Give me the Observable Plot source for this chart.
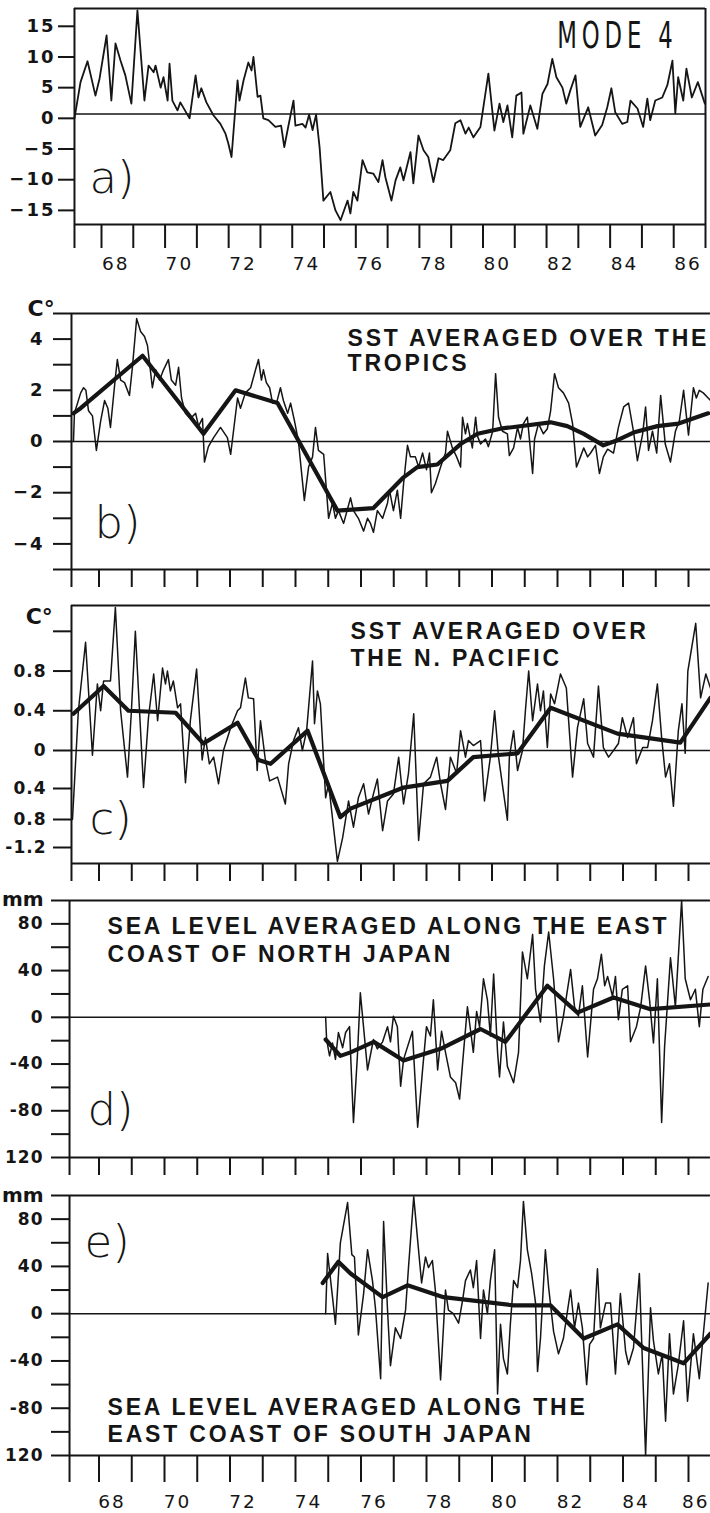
<!DOCTYPE html>
<html><head><meta charset="utf-8">
<script src="https://cdn.jsdelivr.net/npm/d3@7"></script>
<script src="https://cdn.jsdelivr.net/npm/@observablehq/plot@0.6"></script>
<style>
html,body{margin:0;padding:0;background:#fff;overflow:hidden;}
#chart{position:relative;width:710px;height:1513px;overflow:hidden;background:#fff;}
#chart svg{position:absolute;left:0;}
</style></head><body><div id="chart"></div>
<script>
// ---------- DATA (decimal year, value) ----------
const mode4 = [[1967.15,0],[1967.34,5.9],[1967.56,9.3],[1967.81,3.7],[1967.94,6.5],[1968.16,13.5],[1968.31,2.9],[1968.44,12.2],[1968.6,9.4],[1968.75,7],[1968.94,2.4],[1969.13,17.6],[1969.35,2.9],[1969.48,8.6],[1969.64,7.5],[1969.7,8.6],[1969.86,5],[1969.95,6.7],[1970.08,2.9],[1970.14,8.9],[1970.23,2.9],[1970.39,1.3],[1970.48,2.6],[1970.77,0],[1970.96,7],[1971.05,3.4],[1971.14,4.9],[1971.3,2.6],[1971.52,0.5],[1971.74,-0.9],[1971.9,-2.5],[1971.99,-4.1],[1972.09,-6.3],[1972.28,6.2],[1972.34,2.9],[1972.47,6.2],[1972.62,9.1],[1972.72,7.8],[1972.78,10],[1972.91,3.5],[1973.0,3.7],[1973.09,0],[1973.25,-0.3],[1973.47,-1.4],[1973.65,-1.2],[1973.75,-4.7],[1973.88,-1.2],[1974.04,2.9],[1974.1,-1.2],[1974.32,-0.9],[1974.42,-1.5],[1974.53,0.6],[1974.64,-1.9],[1974.75,0.6],[1974.86,-4.7],[1974.98,-13.4],[1975.2,-12],[1975.36,-15],[1975.52,-16.6],[1975.74,-13.4],[1975.83,-15.5],[1975.92,-12],[1976.05,-13.4],[1976.21,-6.8],[1976.36,-8.8],[1976.55,-9],[1976.71,-10.4],[1976.84,-6.8],[1976.93,-9.6],[1977.12,-13.4],[1977.25,-10.1],[1977.4,-8],[1977.5,-10.1],[1977.72,-5.5],[1977.81,-10.6],[1977.97,-2.8],[1978.13,-5.2],[1978.28,-6.3],[1978.44,-10.4],[1978.6,-6.5],[1978.75,-6.8],[1978.97,-5.2],[1979.13,-0.8],[1979.29,-0.3],[1979.45,-2.5],[1979.55,-1.5],[1979.7,-3.1],[1979.92,-1.4],[1980.17,7.3],[1980.36,-2],[1980.52,2.4],[1980.64,-0.6],[1980.77,2.1],[1980.92,-3.1],[1981.05,3.7],[1981.21,4.2],[1981.27,-2.5],[1981.49,2.1],[1981.71,-1.7],[1981.87,4],[1982.03,5.6],[1982.18,9.7],[1982.31,6.7],[1982.5,5],[1982.62,2.4],[1982.75,4.6],[1982.91,7],[1983.06,-1.4],[1983.31,1.8],[1983.53,-2.8],[1983.75,-1.1],[1983.91,1.8],[1984.04,4.9],[1984.16,1],[1984.38,-0.9],[1984.54,-0.6],[1984.64,2.9],[1984.86,1.6],[1985.04,-1.4],[1985.17,3.2],[1985.26,-0.3],[1985.42,2.9],[1985.64,3.4],[1985.8,5.4],[1985.96,9.4],[1986.05,0.8],[1986.14,6.7],[1986.3,2.9],[1986.4,8.1],[1986.57,3.4],[1986.76,5.9],[1986.98,2.4]];

const sstTropics = [[1967.22,0],[1967.25,1.1],[1967.44,1.9],[1967.53,2.1],[1967.6,2.0],[1967.68,1.2],[1967.8,1.0],[1967.92,-0.35],[1968.05,0.8],[1968.17,1.6],[1968.27,1.3],[1968.35,0.55],[1968.5,2.5],[1968.56,3.2],[1968.66,2.4],[1968.78,2.3],[1968.93,1.8],[1969.02,2.9],[1969.15,4.8],[1969.27,4.3],[1969.39,4.1],[1969.48,3.75],[1969.54,3.1],[1969.63,2.1],[1969.73,2.8],[1969.85,2.4],[1969.97,2.8],[1970.12,3.2],[1970.21,2.4],[1970.34,2.2],[1970.43,2.9],[1970.52,1.7],[1970.64,1.1],[1970.79,0.9],[1970.95,1.1],[1971.04,0.6],[1971.16,0.9],[1971.22,-0.8],[1971.34,-0.2],[1971.5,0.15],[1971.71,0.55],[1971.92,0.15],[1972.02,-0.5],[1972.23,1.7],[1972.32,1.3],[1972.47,1.9],[1972.63,2.1],[1972.78,2.8],[1972.87,3.2],[1972.96,2.4],[1973.02,2.8],[1973.11,2.3],[1973.21,2.1],[1973.3,1.5],[1973.42,1.5],[1973.54,2.1],[1973.63,1.6],[1973.76,1.1],[1973.85,1.5],[1973.97,0.8],[1974.09,0],[1974.27,-2.3],[1974.4,-1.0],[1974.52,-0.6],[1974.61,0.55],[1974.7,-0.35],[1974.86,-0.5],[1975.01,-3.0],[1975.13,-2.4],[1975.22,-3.0],[1975.31,-2.7],[1975.47,-3.2],[1975.68,-2.2],[1975.77,-2.7],[1975.92,-3.0],[1976.08,-3.5],[1976.2,-3.0],[1976.29,-3.2],[1976.38,-3.55],[1976.5,-2.7],[1976.66,-3.0],[1976.81,-2.4],[1976.87,-1.9],[1976.99,-2.7],[1977.11,-1.9],[1977.21,-3.0],[1977.3,-1.65],[1977.42,-0.15],[1977.51,-0.6],[1977.66,-0.6],[1977.76,-1.0],[1977.88,-0.45],[1978.0,-1.1],[1978.09,-0.45],[1978.15,-2.0],[1978.27,-1.65],[1978.43,-1.0],[1978.58,-0.45],[1978.64,0.4],[1978.79,-0.25],[1978.92,-0.6],[1979.04,-1.0],[1979.1,0.95],[1979.19,0.3],[1979.25,0.7],[1979.4,-0.25],[1979.5,0.95],[1979.56,0.2],[1979.65,-0.1],[1979.8,0.1],[1979.89,-0.2],[1980.02,0.4],[1980.11,2.65],[1980.2,0.95],[1980.32,0.4],[1980.47,0.3],[1980.53,-0.55],[1980.66,-0.25],[1980.78,0.55],[1980.87,0.1],[1980.96,0.7],[1981.08,0.95],[1981.24,-1.25],[1981.3,0.1],[1981.42,0.7],[1981.57,0.3],[1981.69,0.5],[1981.79,1.2],[1981.91,2.65],[1982.03,2.1],[1982.18,1.9],[1982.34,1.5],[1982.46,0.7],[1982.58,-1.0],[1982.7,-0.6],[1982.8,-0.25],[1982.92,-0.6],[1983.01,-0.45],[1983.16,-0.15],[1983.28,-1.25],[1983.4,-0.6],[1983.53,-0.3],[1983.71,-0.45],[1983.86,0.55],[1984.02,1.35],[1984.17,1.5],[1984.32,0.4],[1984.44,-0.75],[1984.6,0.3],[1984.69,1.35],[1984.78,-0.35],[1984.9,0.4],[1985.03,-0.45],[1985.15,1.8],[1985.29,-0.1],[1985.45,-0.8],[1985.6,0.4],[1985.72,0.8],[1985.85,2.0],[1986.0,0.25],[1986.15,2.1],[1986.24,1.7],[1986.33,2.0],[1986.45,1.9],[1986.6,1.7],[1986.75,1.5]];
const sstTropicsSmooth = [[1967.22,1.1],[1967.44,1.3],[1969.33,3.35],[1971.19,0.3],[1972.17,2.0],[1973.45,1.5],[1975.28,-2.7],[1976.38,-2.6],[1977.3,-1.4],[1977.72,-1.0],[1978.33,-0.9],[1979.04,-0.1],[1979.56,0.3],[1980.26,0.5],[1981.79,0.75],[1982.3,0.6],[1982.8,0.3],[1983.4,-0.15],[1983.83,0.05],[1984.32,0.35],[1985.05,0.6],[1985.7,0.7],[1986.6,1.1]];

const sstNPacific = [[1967.19,-0.8],[1967.37,0.4],[1967.59,1.09],[1967.8,-0.05],[1967.95,0.67],[1968.05,0.4],[1968.14,0.7],[1968.35,0.7],[1968.5,1.44],[1968.66,0.4],[1968.87,-0.28],[1968.99,0.4],[1969.11,1.2],[1969.36,-0.39],[1969.51,0.33],[1969.67,0.77],[1969.79,0.3],[1969.94,0.83],[1970.03,0.67],[1970.09,0.8],[1970.18,0.6],[1970.27,0.7],[1970.4,0.43],[1970.49,0.47],[1970.64,-0.34],[1970.79,0.3],[1970.98,0.82],[1971.15,-0.1],[1971.25,0.13],[1971.37,-0.14],[1971.5,-0.07],[1971.65,-0.35],[1971.8,0],[1972.02,0.23],[1972.23,0.4],[1972.32,0.43],[1972.47,0.73],[1972.56,0.53],[1972.72,0.52],[1972.83,-0.21],[1972.93,0.3],[1973.08,-0.1],[1973.21,-0.32],[1973.45,-0.28],[1973.69,-0.6],[1973.79,-0.14],[1973.94,0.1],[1974.09,0.23],[1974.21,0],[1974.34,0.2],[1974.52,0.9],[1974.58,0.27],[1974.67,0.6],[1974.76,0.47],[1974.92,-0.52],[1975.01,-0.35],[1975.28,-1.4],[1975.44,-1.06],[1975.62,-0.56],[1975.77,-0.91],[1975.92,-0.52],[1976.08,-0.35],[1976.23,-0.73],[1976.38,-0.47],[1976.5,-0.3],[1976.66,-0.96],[1976.81,-0.56],[1976.99,-0.47],[1977.15,-0.07],[1977.3,-0.6],[1977.45,-0.24],[1977.61,0.37],[1977.76,-1.1],[1977.91,-0.35],[1978.12,-0.28],[1978.31,-0.07],[1978.43,-0.35],[1978.58,-0.67],[1978.73,-0.07],[1978.92,-0.24],[1979.04,0.2],[1979.19,-0.07],[1979.28,0.1],[1979.43,0.05],[1979.65,0.1],[1979.77,-0.56],[1979.95,-0.07],[1980.08,0.4],[1980.2,-0.07],[1980.47,-0.81],[1980.53,-0.07],[1980.66,0.2],[1980.78,-0.21],[1980.93,0],[1981.02,0.4],[1981.12,0.8],[1981.24,0.3],[1981.39,0.67],[1981.48,0.4],[1981.57,0.6],[1981.69,0.03],[1981.79,0.57],[1981.91,0.47],[1982.09,0.77],[1982.27,0.63],[1982.46,-0.28],[1982.61,0.23],[1982.8,0.52],[1982.92,0.07],[1983.1,-0.07],[1983.25,0.65],[1983.4,0.03],[1983.56,-0.07],[1983.71,0],[1983.86,0.07],[1983.98,0.33],[1984.14,0.13],[1984.32,0.33],[1984.41,-0.14],[1984.6,0.03],[1984.75,0.03],[1984.9,0.3],[1985.05,0.67],[1985.18,0.13],[1985.3,-0.28],[1985.42,-0.14],[1985.54,-0.63],[1985.69,0.2],[1985.8,0.47],[1985.9,-0.03],[1985.98,0.8],[1986.22,1.28],[1986.37,0.53],[1986.53,0.77],[1986.7,0.6]];
const sstNPacificSmooth = [[1967.22,0.37],[1968.14,0.65],[1968.9,0.4],[1970.34,0.38],[1971.19,0.07],[1972.23,0.28],[1972.87,-0.1],[1973.24,-0.14],[1974.37,0.2],[1975.37,-0.77],[1975.68,-0.66],[1977.3,-0.39],[1978.64,-0.32],[1979.43,-0.07],[1980.78,-0.03],[1981.79,0.43],[1983.83,0.17],[1985.75,0.08],[1986.67,0.53]];

const seaLevelNorth = [[1974.92,0],[1974.95,-19],[1975.04,-33],[1975.13,-22],[1975.22,-36],[1975.31,-13],[1975.44,-26],[1975.53,-13],[1975.65,-8],[1975.68,-30],[1975.77,-90],[1975.89,-33],[1975.98,21],[1976.2,-45],[1976.38,-19],[1976.5,-27],[1976.66,-21],[1976.81,-8],[1976.9,-21],[1976.99,1],[1977.11,-8],[1977.21,-59],[1977.3,-36],[1977.57,-12],[1977.73,-94],[1977.88,-45],[1978.0,-8],[1978.12,-16],[1978.21,15],[1978.34,-45],[1978.46,-12],[1978.58,-30],[1978.73,-51],[1978.89,-56],[1979.01,-70],[1979.13,-30],[1979.25,9],[1979.34,-10],[1979.43,-30],[1979.53,5],[1979.62,-8],[1979.74,33],[1979.86,15],[1979.95,-16],[1980.05,37],[1980.17,-30],[1980.23,-51],[1980.35,-4],[1980.47,-42],[1980.66,-56],[1980.81,-30],[1980.93,56],[1981.08,33],[1981.24,71],[1981.33,24],[1981.48,-4],[1981.6,44],[1981.73,73],[1981.88,33],[1982.03,-21],[1982.18,1],[1982.4,41],[1982.52,9],[1982.64,1],[1982.76,27],[1982.92,-34],[1983.1,24],[1983.22,33],[1983.34,54],[1983.44,27],[1983.53,35],[1983.68,18],[1983.77,35],[1983.86,-2],[1983.98,24],[1984.14,27],[1984.23,-21],[1984.41,-8],[1984.54,9],[1984.69,44],[1984.81,15],[1984.93,-22],[1985.05,33],[1985.18,-90],[1985.27,-25],[1985.45,51],[1985.6,9],[1985.79,100],[1985.9,33],[1986.06,15],[1986.21,24],[1986.33,-8],[1986.44,24],[1986.6,35]];
const seaLevelNorthSmooth = [[1974.92,-19],[1975.37,-33],[1975.68,-30],[1976.39,-21],[1977.3,-37],[1978.43,-27],[1979.65,-10],[1980.41,-21],[1981.69,27],[1982.61,4],[1983.71,17],[1984.84,7],[1986.67,11]];

const seaLevelSouth = [[1974.92,0],[1974.98,51],[1975.13,14],[1975.22,-9],[1975.37,60],[1975.59,94],[1975.72,50],[1975.8,48],[1975.92,-18],[1976.08,17],[1976.2,54],[1976.35,28],[1976.44,5],[1976.6,-55],[1976.69,78],[1976.81,3],[1976.9,-44],[1977.05,-12],[1977.21,-21],[1977.36,3],[1977.45,39],[1977.61,99],[1977.73,62],[1977.85,26],[1977.97,48],[1978.06,39],[1978.18,45],[1978.27,20],[1978.43,-56],[1978.58,20],[1978.67,3],[1978.82,0],[1978.98,-8],[1979.1,11],[1979.19,28],[1979.34,37],[1979.43,22],[1979.53,45],[1979.65,-21],[1979.74,20],[1979.86,0],[1979.95,28],[1980.08,54],[1980.17,-68],[1980.26,-9],[1980.35,-38],[1980.47,-51],[1980.56,-9],[1980.66,28],[1980.78,22],[1980.87,45],[1980.96,95],[1981.08,54],[1981.21,34],[1981.33,9],[1981.39,-49],[1981.48,-21],[1981.63,54],[1981.73,22],[1981.88,-15],[1982.03,-34],[1982.18,-21],[1982.4,20],[1982.52,-12],[1982.64,9],[1982.76,-12],[1982.89,-60],[1982.98,-26],[1983.1,-21],[1983.22,38],[1983.31,-12],[1983.47,9],[1983.62,9],[1983.77,-51],[1983.92,17],[1984.08,-32],[1984.17,-43],[1984.32,-29],[1984.5,34],[1984.69,-120],[1984.84,5],[1984.93,-23],[1985.08,-51],[1985.2,-34],[1985.3,-91],[1985.42,-17],[1985.54,-68],[1985.69,-43],[1985.85,-6],[1985.97,-74],[1986.15,-17],[1986.33,-55],[1986.44,-21],[1986.6,26]];
const seaLevelSouthSmooth = [[1974.83,26],[1975.31,44],[1975.68,34],[1976.66,14],[1977.42,24],[1978.52,14],[1980.66,7],[1981.79,7],[1982.8,-21],[1983.83,-9],[1984.63,-29],[1985.85,-42],[1986.67,-17]];

// tick values and tick labels
const years = [1968,1969,1970,1971,1972,1973,1974,1975,1976,1977,1978,1979,1980,1981,1982,1983,1984,1985,1986];
const labelYears = [1968,1970,1972,1974,1976,1978,1980,1982,1984,1986];
const aTicks = [-15,-10,-5,0,5,10,15];
const aTickLabels = ["\u221215","\u221210","\u22125","0","5","10","15"];
const bTicks = [-5,-4,-3,-2,-1,0,1,2,3,4,5];
const bTickLabels = ["","\u22124","","\u22122","","0","","2","","4",""];
const cTicks = [-1.2,-0.8,-0.4,0,0.4,0.8,1.2];
const cTickLabels = ["-1.2","0.8","0.4","0","0.4","0.8",""];
const mmTicks = [-120,-100,-80,-60,-40,-20,0,20,40,60,80,100];
const mmTickLabels = ["120","","-80","","-40","","0","","40","","80",""];

// ---------- DRAWING ----------
const INK = "#151515";
const toObj = arr => arr.map(([t, v]) => ({t, v}));
const lbl = (ticks, labels) => d => labels[ticks.indexOf(d)] ?? "";

function addPanel(top, opts, yls, post) {
  const svg = Plot.plot({
    width: 710, marginRight: 0,
    style: {fontFamily: "'DejaVu Sans', sans-serif", fontSize: "17px", color: INK, background: "transparent", overflow: "visible"},
    ...opts
  });
  svg.style.top = top + "px";
  document.getElementById("chart").append(svg);
  const s = d3.select(svg);
  s.selectAll('g[font-family*="Liberation"] text').style("letter-spacing", "2.8px");
  s.selectAll('g[aria-label="y-axis tick label"] text').style("letter-spacing", yls);
  s.selectAll('g[aria-label="x-axis tick label"] text').style("letter-spacing", "2px");
  if (post) post(svg, s);
  return svg;
}

function frame(left, right, lo, hi, zero) {
  return [
    Plot.ruleY([lo, hi], {x1: left, x2: right, stroke: INK, strokeWidth: 2}),
    Plot.ruleX([left], {y1: lo, y2: hi, stroke: INK, strokeWidth: 2}),
    Plot.ruleY([zero], {x1: left, x2: right, stroke: INK, strokeWidth: 1.4})
  ];
}
const thin = (data, w = 1.5) => Plot.line(toObj(data), {x: "t", y: "v", stroke: INK, strokeWidth: w, strokeLinejoin: "round"});
const thick = data => Plot.line(toObj(data), {x: "t", y: "v", stroke: INK, strokeWidth: 4.2, strokeLinejoin: "round", strokeLinecap: "round"});
const panelLetter = (s, x, y) => Plot.text([s], {x, y, text: d => d, textAnchor: "start", lineAnchor: "bottom", fontFamily: "'DejaVu Sans', sans-serif", fontWeight: 300, fontSize: 45, fill: INK});
const title = (s, x, y, lh) => Plot.text([s], {x, y, text: d => d, textAnchor: "start", lineAnchor: "bottom", lineHeight: lh, fontFamily: "'Liberation Sans', Arial, sans-serif", fontWeight: "bold", fontSize: 23, fill: INK});
const unit = (s, x, y, anchor, fs = 22) => Plot.text([s], {x, y, text: d => d, textAnchor: anchor, lineAnchor: "bottom", fontFamily: "'DejaVu Sans', sans-serif", fontWeight: "bold", fontSize: fs, fill: INK});
const xTickAxis = (left, size, yearsList) => Plot.axisX({ticks: [left, ...yearsList], tickSize: size, tickFormat: () => "", stroke: INK, strokeWidth: 2, label: null});
const xLabelAxis = (pad, pos) => Plot.axisX({ticks: labelYears.map(pos), tickSize: 0, tickPadding: pad, tickFormat: d => String(Math.floor(d)).slice(2), fontSize: 18.5, fill: INK, label: null});
const yAxis = (ticks, labels, size, pad, fs = 18) => Plot.axisY({ticks, tickSize: size, tickPadding: pad, tickFormat: lbl(ticks, labels), stroke: INK, strokeWidth: 2, fontWeight: "bold", fontSize: fs, fill: INK, label: null});

const xBE = {domain: [1968, 1986], range: [98.5, 688]};

// a) MODE 4
addPanel(0, {
  height: 280, marginTop: 8, marginBottom: 56, marginLeft: 74,
  x: {domain: [1968, 1987], range: [101, 705]},
  y: {domain: [-17.3, 17.9], range: [224, 8]},
  marks: [
    ...frame(1967.15, 1987, -17.3, 17.9, 0.7),
    Plot.ruleX([1987], {y1: -17.3, y2: 17.9, stroke: INK, strokeWidth: 2}),
    xTickAxis(1967.15, 24, [...years, 1987]),
    xLabelAxis(32, y => y + 0.45),
    yAxis(aTicks, aTickLabels, 16, 3, 18),
    thin(mode4, 1.8),
    panelLetter("a)", 1967.62, -12.1),
    Plot.text(["MODE 4"], {x: 1982.34, y: 11.5, text: d => d, textAnchor: "start", lineAnchor: "bottom", fontFamily: "'DejaVu Sans', sans-serif", fontSize: 38, fill: INK})
  ]
}, "2px", (svg, s) => {
  const px = svg.scale("x").apply(1982.34);
  s.selectAll("text").filter(function() { return this.textContent === "MODE 4"; })
    .each(function() {
      const prev = this.getAttribute("transform") || "";
      this.setAttribute("transform", `translate(${px},0) scale(0.6,1) translate(${-px},0) ${prev}`);
      this.style.letterSpacing = "8px";
    });
});

// b) SST tropics
addPanel(280, {
  height: 310, marginTop: 33, marginBottom: 21, marginLeft: 71,
  x: xBE, y: {domain: [-5, 5], range: [289, 33]},
  marks: [
    ...frame(1967.16, 1986.67, -5, 5, 0),
    xTickAxis(1967.16, 18, years),
    yAxis(bTicks, bTickLabels, 18, 9),
    thin(sstTropics),
    thick(sstTropicsSmooth),
    unit("C\u00B0", 1965.82, 4.92, "start"),
    title("SST AVERAGED OVER THE\nTROPICS", 1975.59, 2.77, 1.087),
    panelLetter("b)", 1967.86, -3.75)
  ]
}, "2px");

// c) SST N. Pacific (axis drawn with unequal spacing below zero, as in the original)
addPanel(590, {
  height: 300, marginTop: 15, marginBottom: 27, marginLeft: 71,
  x: xBE, y: {type: "linear", domain: [-1.43, -1.2, -0.8, -0.4, 0, 1.46], range: [273, 257, 229, 198, 160, 15]},
  marks: [
    ...frame(1967.16, 1986.67, -1.43, 1.46, 0),
    xTickAxis(1967.16, 18, years),
    yAxis(cTicks, cTickLabels, 18, 7, 17),
    thin(sstNPacific),
    thick(sstNPacificSmooth),
    unit("C\u00B0", 1965.76, 1.276, "start"),
    title("SST AVERAGED OVER\nTHE N. PACIFIC", 1975.68, 0.854, 1.17),
    panelLetter("c)", 1967.71, -1.0)
  ]
}, "1px");

// d) Sea level north Japan
addPanel(890, {
  height: 300, marginTop: 10, marginBottom: 33, marginLeft: 69,
  x: xBE, y: {domain: [-120, 100], range: [267, 10]},
  marks: [
    ...frame(1967.1, 1986.67, -120, 100, 0),
    xTickAxis(1967.1, 18, years),
    yAxis(mmTicks, mmTickLabels, 18, 8, 17),
    thin(seaLevelNorth),
    thick(seaLevelNorthSmooth),
    unit("mm", 1966.31, 95.3, "end", 20),
    title("SEA LEVEL AVERAGED ALONG THE EAST\nCOAST OF NORTH JAPAN", 1968.26, 47.2, 1.22),
    panelLetter("d)", 1967.65, -91.8)
  ]
}, "1px");

// e) Sea level south Japan
addPanel(1190, {
  height: 323, marginTop: 5, marginBottom: 58, marginLeft: 69,
  x: xBE, y: {domain: [-120, 100], range: [265, 5]},
  marks: [
    ...frame(1967.1, 1986.67, -120, 100, 0),
    xTickAxis(1967.1, 27, years),
    xLabelAxis(39, y => Math.min(y + 0.4, 1986.22)),
    yAxis(mmTicks, mmTickLabels, 18, 8, 17),
    thin(seaLevelSouth),
    thick(seaLevelSouthSmooth),
    unit("mm", 1966.31, 94.9, "end", 20),
    title("SEA LEVEL AVERAGED ALONG THE\nEAST COAST OF SOUTH JAPAN", 1968.26, -108.5, 1.17),
    panelLetter("e)", 1967.56, 47.9)
  ]
}, "1px");
</script></body></html>
